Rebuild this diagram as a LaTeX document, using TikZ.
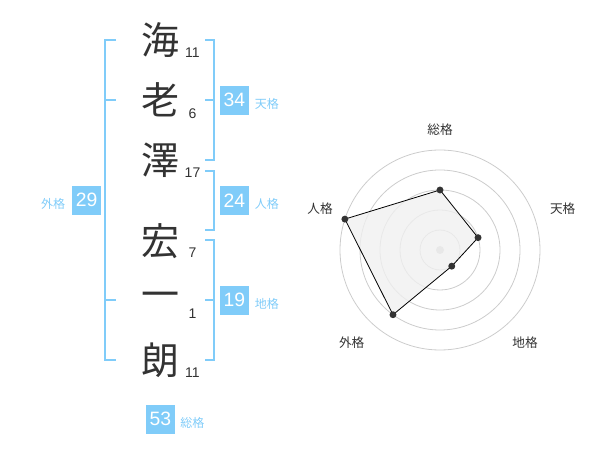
\documentclass[tikz,border=0pt]{standalone}
\usepackage{fontspec}
\setmainfont{Liberation Sans}
\newfontfamily\cjk{Noto Sans CJK JP}
\usetikzlibrary{positioning}
\definecolor{kakublue}{HTML}{80CCF9}
\definecolor{inkgray}{HTML}{333333}
\definecolor{ringgray}{HTML}{CCCCCC}
\tikzset{
  kanji/.style={font=\cjk\fontsize{28.5}{30}\selectfont, text=inkgray, inner sep=0pt},
  strokes/.style={font=\fontsize{10.5}{12}\selectfont, text=inkgray, inner sep=0pt},
  kakubox/.style={fill=kakublue, text=white, minimum width=21.5pt, minimum height=21.5pt, inner sep=0pt, font=\fontsize{14.5}{16}\selectfont},
  kakulabel/.style={font=\cjk\fontsize{9}{10}\selectfont, text=kakublue, inner sep=0pt},
  bracket/.style={draw=kakublue, line width=1.5pt},
  radarlabel/.style={font=\cjk\fontsize{9.5}{11}\selectfont, text=inkgray, inner sep=0pt},
}
\begin{document}
\begin{tikzpicture}[x=0.75pt,y=-0.75pt]
\useasboundingbox (0,0) rectangle (600,470);

% name characters with stroke counts
\node[kanji] (c1) at (160,40) {海};
\node[kanji] (c2) at (160,100) {老};
\node[kanji] (c3) at (160,160) {澤};
\node[kanji] (c4) at (160,241) {宏};
\node[kanji] (c5) at (160,300) {一};
\node[kanji] (c6) at (160,360) {朗};
\node[strokes] (s1) at (192.5,52.7) {11};
\node[strokes] (s2) at (192.5,113.3) {6};
\node[strokes] (s3) at (192.5,172.7) {17};
\node[strokes] (s4) at (192.5,252.3) {7};
\node[strokes] (s5) at (192.5,313.3) {1};
\node[strokes] (s6) at (192.5,372.7) {11};

% brackets
\draw[bracket] (116,40) -- (105,40) -- (105,360) -- (116,360);
\draw[bracket] (105,100) -- (116,100);
\draw[bracket] (105,300) -- (116,300);
\draw[bracket] (205,40) -- (214.3,40) -- (214.3,160) -- (205,160);
\draw[bracket] (205,100) -- (214.3,100);
\draw[bracket] (205,171) -- (214.3,171) -- (214.3,230) -- (205,230);
\draw[bracket] (205,240) -- (214.3,240) -- (214.3,360) -- (205,360);
\draw[bracket] (205,300) -- (214.3,300);

% fortune boxes
\node[kakubox] (ten) at (234.3,100.3) {34};
\node[kakubox] (jin) at (234.3,200.3) {24};
\node[kakubox] (chi) at (234.3,300.3) {19};
\node[kakubox] (gai) at (86.7,200.3) {29};
\node[kakubox] (sou) at (160.5,419.3) {53};
\node[kakulabel,right=4.2pt of ten,yshift=-3pt] (tenl) {天格};
\node[kakulabel,right=4.2pt of jin,yshift=-3pt] (jinl) {人格};
\node[kakulabel,right=4.2pt of chi,yshift=-3pt] (chil) {地格};
\node[kakulabel,left=5pt of gai,yshift=-3pt] (gail) {外格};
\node[kakulabel,right=3.8pt of sou,yshift=-2.5pt] (soul) {総格};

% radar chart
\begin{scope}[shift={(440,250)},x=0.75pt,y=0.75pt]
\foreach \r in {20,40,60,80,100}
  \draw[ringgray,line width=0.6pt] (0,0) circle (0.75*\r pt);
\fill[ringgray] (0,0) circle (3pt);
\coordinate (psou) at (90:60);
\coordinate (pten) at (18:40);
\coordinate (pchi) at (-54:20);
\coordinate (pgai) at (-126:80);
\coordinate (pjin) at (162:100);
\draw[black,line width=0.6pt,fill=black!6,fill opacity=0.8] (psou) -- (pten) -- (pchi) -- (pgai) -- (pjin) -- cycle;
\foreach \p in {psou,pten,pchi,pgai,pjin}
  \fill[inkgray] (\p) circle (2.6pt);
\node[radarlabel] (rsou) at (0,120) {総格};
\node[radarlabel] (rten) at (122.7,41) {天格};
\node[radarlabel] (rchi) at (85,-92.3) {地格};
\node[radarlabel] (rgai) at (-88.3,-92.3) {外格};
\node[radarlabel] (rjin) at (-120,41) {人格};
\end{scope}
\end{tikzpicture}
\end{document}
